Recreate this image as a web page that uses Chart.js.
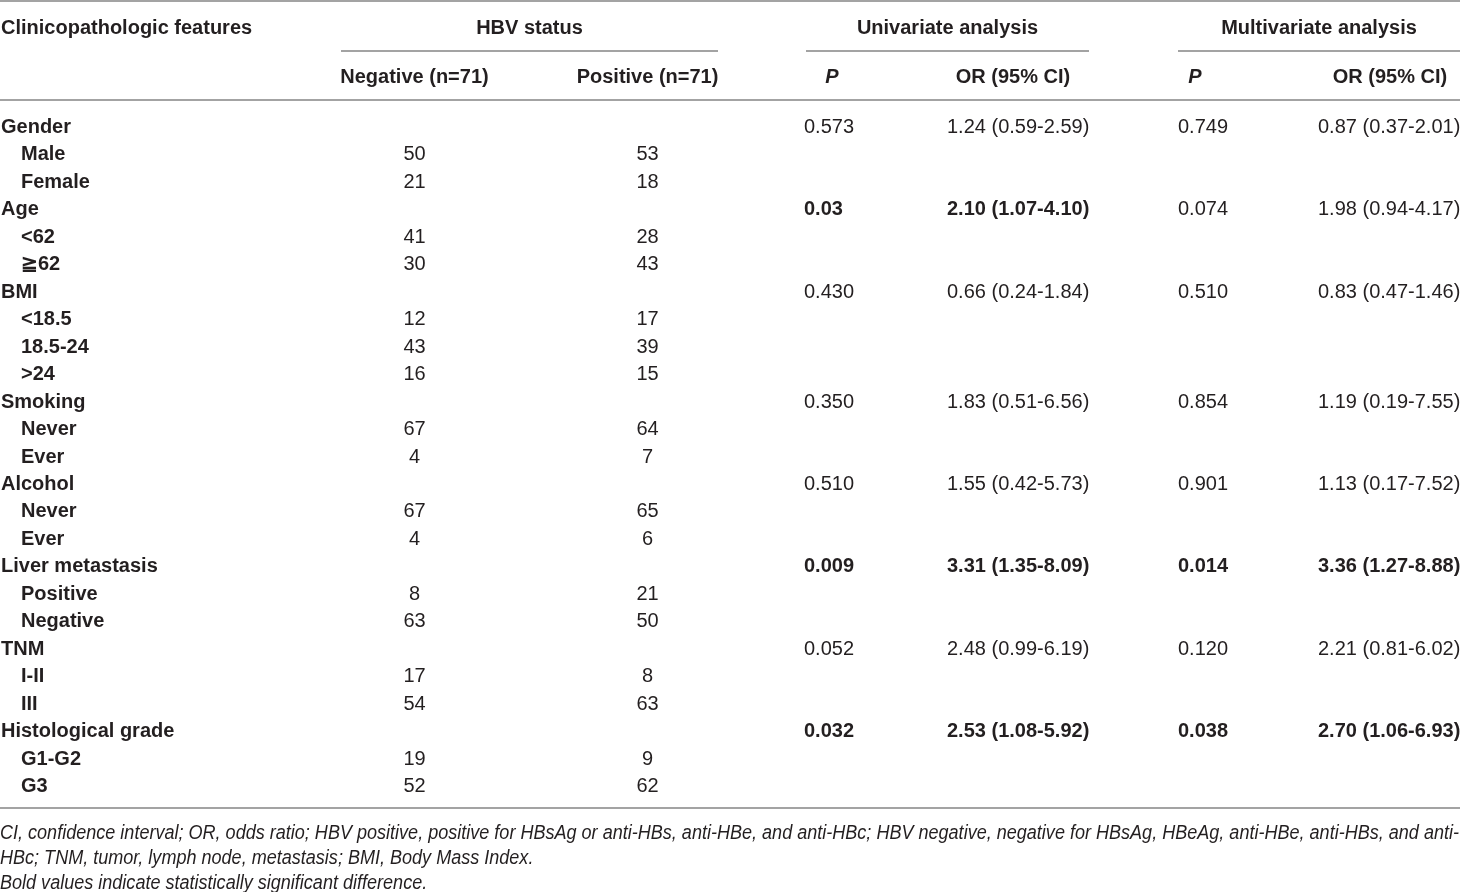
<!DOCTYPE html>
<html>
<head>
<meta charset="utf-8">
<script src="https://cdn.jsdelivr.net/npm/chart.js@4.4.1/dist/chart.umd.min.js"></script>
<style>
html,body{margin:0;padding:0;background:#ffffff;}
#wrap{width:1460px;height:892px;position:relative;}
canvas{display:block;}
</style>
</head>
<body>
<div id="wrap"><canvas id="c" width="1460" height="892"></canvas></div>
<script>
// ---------------- DATA ----------------
const stubHeader = "Clinicopathologic features";
const groupHeaders = ["HBV status", "Univariate analysis", "Multivariate analysis"];
const columnHeaders = ["Negative (n=71)", "Positive (n=71)", "P", "OR (95% CI)", "P", "OR (95% CI)"];

const features = ["Gender", "Age", "BMI", "Smoking", "Alcohol", "Liver metastasis", "TNM", "Histological grade"];
const subgroups = [
  ["Male", "Female"],
  ["<62", "\u226762"],
  ["<18.5", "18.5-24", ">24"],
  ["Never", "Ever"],
  ["Never", "Ever"],
  ["Positive", "Negative"],
  ["I-II", "III"],
  ["G1-G2", "G3"]
];
const negativeCounts = [[50, 21], [41, 30], [12, 43, 16], [67, 4], [67, 4], [8, 63], [17, 54], [19, 52]];
const positiveCounts = [[53, 18], [28, 43], [17, 39, 15], [64, 7], [65, 6], [21, 50], [8, 63], [9, 62]];

const uniP = ["0.573", "0.03", "0.430", "0.350", "0.510", "0.009", "0.052", "0.032"];
const uniOR = ["1.24 (0.59-2.59)", "2.10 (1.07-4.10)", "0.66 (0.24-1.84)", "1.83 (0.51-6.56)",
               "1.55 (0.42-5.73)", "3.31 (1.35-8.09)", "2.48 (0.99-6.19)", "2.53 (1.08-5.92)"];
const uniSignificant = [false, true, false, false, false, true, false, true];

const multiP = ["0.749", "0.074", "0.510", "0.854", "0.901", "0.014", "0.120", "0.038"];
const multiOR = ["0.87 (0.37-2.01)", "1.98 (0.94-4.17)", "0.83 (0.47-1.46)", "1.19 (0.19-7.55)",
                 "1.13 (0.17-7.52)", "3.36 (1.27-8.88)", "2.21 (0.81-6.02)", "2.70 (1.06-6.93)"];
const multiSignificant = [false, false, false, false, false, true, false, true];

const footnotes = [
  "CI, confidence interval; OR, odds ratio; HBV positive, positive for HBsAg or anti-HBs, anti-HBe, and anti-HBc; HBV negative, negative for HBsAg, HBeAg, anti-HBe, anti-HBs, and anti-",
  "HBc; TNM, tumor, lymph node, metastasis; BMI, Body Mass Index.",
  "Bold values indicate statistically significant difference."
];

// ---------------- LAYOUT / STYLE ----------------
const FONT = '"Liberation Sans", Arial, Helvetica, sans-serif';
const STYLE = {
  text: "#231f20",
  rule: "#a3a3a3",
  size: 20,
  footSize: 20,
  textDy: 1.5
};
// x axis: horizontal page units; y axis: table row units (0 = first body row)
const COL = {
  stub: 1, sub: 21,
  neg: 414.5, pos: 647.5,          // centred columns
  uniP: 804, uniOR: 947,           // left-aligned columns
  multiP: 1178, multiOR: 1318
};
const HEAD_CENTERS = [414.5, 647.5, 832, 1013, 1195, 1390];
const GROUP_SPANS = [[341, 718], [806, 1089], [1178, 1460]];
const ROWPOS = {
  groupHeader: -3.605, colHeader: -1.821,
  topRule: -4.534, groupRule: -2.749, headRule: -0.947, bottomRule: 24.85,
  foot: [25.70, 26.62, 27.52]
};

// ---------------- BUILD ROWS ----------------
const labelPts = [], negPts = [], posPts = [], uniPPts = [], uniORPts = [], multiPPts = [], multiORPts = [];
let r = 0;
features.forEach((f, i) => {
  labelPts.push({x: COL.stub, y: r, text: f, bold: true});
  uniPPts.push({x: COL.uniP, y: r, text: uniP[i], bold: uniSignificant[i]});
  uniORPts.push({x: COL.uniOR, y: r, text: uniOR[i], bold: uniSignificant[i]});
  multiPPts.push({x: COL.multiP, y: r, text: multiP[i], bold: multiSignificant[i]});
  multiORPts.push({x: COL.multiOR, y: r, text: multiOR[i], bold: multiSignificant[i]});
  r++;
  subgroups[i].forEach((s, j) => {
    labelPts.push({x: COL.sub, y: r, text: s, bold: true});
    negPts.push({x: COL.neg, y: r, text: String(negativeCounts[i][j]), bold: false});
    posPts.push({x: COL.pos, y: r, text: String(positiveCounts[i][j]), bold: false});
    r++;
  });
});

const mk = (label, data, align) => ({label, data, align, pointRadius: 0, pointHoverRadius: 0, showLine: false});

// ---------------- TABLE PLUGIN ----------------
const tablePlugin = {
  id: "tableText",
  afterDatasetsDraw(chart) {
    const ctx = chart.ctx, xs = chart.scales.x, ys = chart.scales.y;
    const px = v => xs.getPixelForValue(v), py = v => ys.getPixelForValue(v);
    const dy = STYLE.textDy;
    ctx.save();
    ctx.fillStyle = STYLE.text;
    ctx.textBaseline = "middle";

    // rules
    ctx.strokeStyle = STYLE.rule;
    ctx.lineWidth = 2;
    const hline = (x0, x1, row) => {
      const y = Math.round(py(row));
      ctx.beginPath(); ctx.moveTo(px(x0), y); ctx.lineTo(px(x1), y); ctx.stroke();
    };
    hline(0, 1460, ROWPOS.topRule);
    GROUP_SPANS.forEach(s => hline(s[0], s[1], ROWPOS.groupRule));
    hline(0, 1460, ROWPOS.headRule);
    hline(0, 1460, ROWPOS.bottomRule);

    // header
    ctx.font = `bold ${STYLE.size}px ${FONT}`;
    ctx.textAlign = "left";
    ctx.fillText(stubHeader, px(COL.stub), py(ROWPOS.groupHeader) + dy);
    ctx.textAlign = "center";
    groupHeaders.forEach((g, i) => {
      ctx.fillText(g, px((GROUP_SPANS[i][0] + GROUP_SPANS[i][1]) / 2), py(ROWPOS.groupHeader) + dy);
    });
    columnHeaders.forEach((h, i) => {
      ctx.font = (h === "P" ? "italic bold " : "bold ") + `${STYLE.size}px ${FONT}`;
      ctx.fillText(h, px(HEAD_CENTERS[i]), py(ROWPOS.colHeader) + dy);
    });

    // body cells, positioned by the library's elements
    chart.data.datasets.forEach((ds, di) => {
      const meta = chart.getDatasetMeta(di);
      ctx.textAlign = ds.align;
      meta.data.forEach((el, i) => {
        const p = ds.data[i];
        ctx.font = (p.bold ? "bold " : "") + `${STYLE.size}px ${FONT}`;
        ctx.fillText(p.text, el.x, el.y + dy);
      });
    });

    // footnotes (condensed italic)
    ctx.font = `italic ${STYLE.footSize}px ${FONT}`;
    ctx.textAlign = "left";
    const w0 = ctx.measureText(footnotes[0]).width;
    const sx = Math.min(1, (px(1459) - px(0)) / w0);
    footnotes.forEach((t, i) => {
      ctx.save();
      ctx.translate(px(0), py(ROWPOS.foot[i]) + dy);
      ctx.scale(sx, 1);
      ctx.fillText(t, 0, 0);
      ctx.restore();
    });
    ctx.restore();
  }
};

new Chart(document.getElementById("c"), {
  type: "scatter",
  data: {
    datasets: [
      mk("Row labels", labelPts, "left"),
      mk("HBV negative", negPts, "center"),
      mk("HBV positive", posPts, "center"),
      mk("Univariate P", uniPPts, "left"),
      mk("Univariate OR", uniORPts, "left"),
      mk("Multivariate P", multiPPts, "left"),
      mk("Multivariate OR", multiORPts, "left")
    ]
  },
  options: {
    responsive: false,
    animation: false,
    events: [],
    layout: {padding: 0},
    plugins: {legend: {display: false}, tooltip: {enabled: false}, title: {display: false}},
    scales: {
      x: {type: "linear", min: 0, max: 1460, display: false},
      y: {type: "linear", reverse: true, min: -126 / 27.46, max: (892 - 126) / 27.46, display: false}
    }
  },
  plugins: [tablePlugin]
});
</script>
</body>
</html>
